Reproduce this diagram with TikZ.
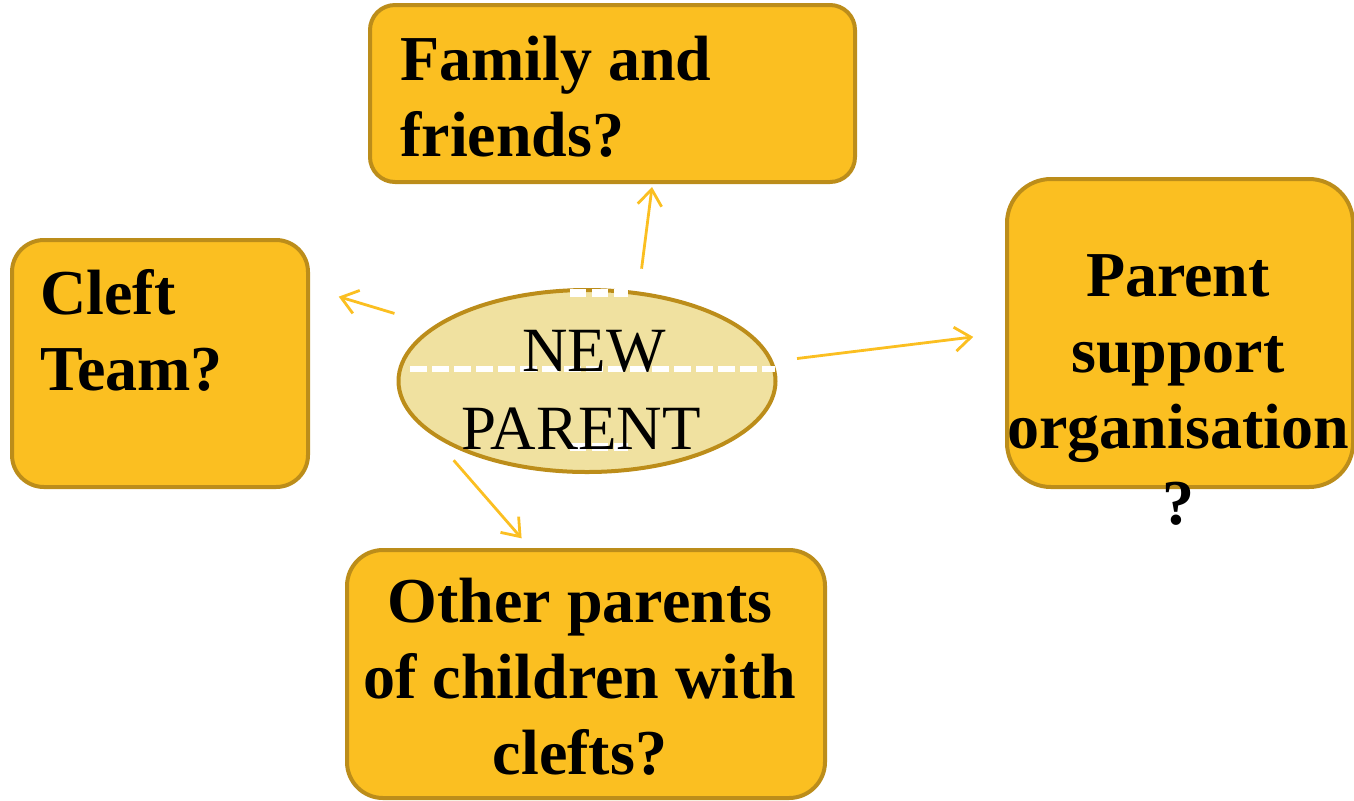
\documentclass[tikz,border=0pt]{standalone}
\usepackage{fontspec}
\setmainfont{Liberation Serif}
\usetikzlibrary{arrows.meta,shapes.geometric,calc}
\definecolor{boxfill}{RGB}{251,191,33}
\definecolor{boxline}{RGB}{188,141,26}
\definecolor{ovalfill}{RGB}{240,225,160}
\begin{document}
\begin{tikzpicture}[x=0.5pt,y=-0.5pt,
  box/.style={draw=boxline,line width=2pt,fill=boxfill,inner sep=0pt},
  txt/.style={inner sep=0pt,font=\bfseries\fontsize{32}{38}\selectfont},
  arr/.style={-{Straight Barb[length=8pt,width=12pt]},draw=boxfill,line width=1.4pt},
  gap/.style={white,line width=3.3pt,dash pattern=on 8.5pt off 2.5pt}]
\useasboundingbox (0,0) rectangle (1354,800);
% boxes
\node[box,rounded corners=12.5pt,minimum width=242.5pt,minimum height=88.5pt] (fam) at (612.5,93.5) {};
\node[box,rounded corners=16pt,minimum width=148pt,minimum height=123.5pt] (cleft) at (160,363.5) {};
\node[box,rounded corners=22pt,minimum width=173pt,minimum height=154pt] (org) at (1180,333) {};
\node[box,rounded corners=18pt,minimum width=239pt,minimum height=124pt] (other) at (586,674) {};
\node[ellipse,draw=boxline,line width=2pt,fill=ovalfill,minimum width=188.5pt,minimum height=91pt,inner sep=0pt] (np) at (587,381) {};
% white dashes
\draw[gap] (410,369) -- (775,369);
\draw[gap,line width=4pt,dash pattern=on 8pt off 3pt] (570,292.5) -- (628,292.5);
\draw[gap,line width=4pt,dash pattern=on 8pt off 3pt] (570,447) -- (628,447);
% texts
\node[txt,anchor=north west,align=left] (fam-t) at (400,36) {Family and\\friends?};
\node[txt,anchor=north west,align=left] (cleft-t) at (40,269) {Cleft\\Team?};
\node[txt,anchor=north,align=center] (org-t) at (1178,254) {Parent\\support\\organisation\\?};
\node[txt,anchor=north,align=center] (other-t) at (580,578) {Other parents\\of children with\\clefts?};
\node[inner sep=0pt,anchor=north,align=center,font=\fontsize{31.5}{39}\selectfont] (np-t) at (581,330) {\hspace*{13pt}NEW\\PARENT};
% arrows
\draw[arr,shorten <=11.5pt] (np.60) -- ($(fam.south)+(39.5,3)$);
\draw[arr,shorten <=20.8pt,shorten >=15pt] (np.160) -- ($(cleft.north east)+(0,50)$);
\draw[arr,shorten <=12pt,shorten >=16pt] (np.6) -- (org.west);
\draw[arr,shorten <=17pt,shorten >=6.4pt] (np.199) -- ($(other.north)+(-56,0)$);
\end{tikzpicture}
\end{document}
